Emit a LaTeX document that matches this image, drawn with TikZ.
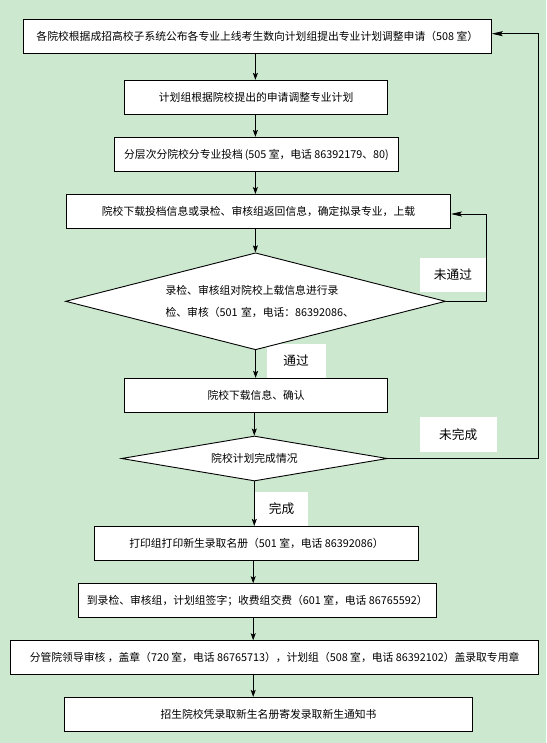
\documentclass[tikz,border=0pt]{standalone}
\usepackage{fontspec}
\setmainfont{Noto Sans CJK SC}
\usetikzlibrary{shapes.geometric,arrows.meta}
\definecolor{bg}{RGB}{204,232,207}
\begin{document}
\begin{tikzpicture}[x=1pt,y=-1pt,
  box/.style={draw=black,line width=0.9pt,fill=white,rectangle,inner sep=0pt,font=\fontsize{10.8}{13}\selectfont},
  dia/.style={draw=black,line width=0.9pt,fill=white,diamond,inner sep=0pt,font=\fontsize{10.8}{21.7}\selectfont},
  lab/.style={fill=white,inner sep=0pt,font=\fontsize{12.7}{15}\selectfont},
  arr/.style={line width=0.8pt,-{Stealth[length=7pt,width=5pt,inset=1.5pt]}},
  fb/.style={line width=0.8pt,-{Stealth[length=11pt,width=5pt,inset=2pt]}},
]
\useasboundingbox[fill=bg] (0,0) rectangle (546,743);

% branch labels
\node[lab,minimum width=66pt,minimum height=34pt] (l1) at (453,275) {未通过};
\node[lab,minimum width=59pt,minimum height=34pt] (l2) at (296,361) {通过};
\node[lab,minimum width=76.6pt,minimum height=34.4pt] (l3) at (458.2,434.5) {未完成};
\node[lab,minimum width=53pt,minimum height=34.3pt] (l4) at (281.6,508.8) {完成};

% boxes
\node[box,minimum width=468pt,minimum height=34pt] (b1) at (257.3,36.3) {各院校根据成招高校子系统公布各专业上线考生数向计划组提出专业计划调整申请（508 室）};
\node[box,minimum width=262.8pt,minimum height=34pt] (b2) at (256.1,97.3) {计划组根据院校提出的申请调整专业计划};
\node[box,minimum width=284.5pt,minimum height=34.4pt] (b3) at (256.5,154.5) {分层次分院校分专业投档\,(505 室，电话 86392179、80)};
\node[box,minimum width=384pt,minimum height=34pt] (b4) at (258.5,211.5) {院校下载投档信息或录检、审核组返回信息，确定拟录专业，上载};
\node[dia,minimum width=380pt,minimum height=97pt,aspect=3.9,text width=180pt,align=left] (d1) at (255.6,301.3) {\mbox{录检、审核组对院校上载信息进行录}\\\mbox{检、审核（501 室，电话：86392086、}};
\node[box,minimum width=262.8pt,minimum height=34.4pt] (b5) at (256.1,395.5) {院校下载信息、确认};
\node[dia,minimum width=266pt,minimum height=45pt,aspect=5.9] (d2) at (254.4,458.5) {\raisebox{-3pt}{院校计划完成情况}};
\node[box,minimum width=323.5pt,minimum height=34pt] (b6) at (256.5,543.3) {打印组打印新生录取名册（501 室，电话 86392086）};
\node[box,minimum width=358pt,minimum height=33.6pt] (b7) at (257.3,600.5) {到录检、审核组，计划组签字；收费组交费（601 室，电话 86765592）};
\node[box,minimum width=527.5pt,minimum height=33.6pt] (b8) at (274.6,657.5) {分管院领导审核 ，盖章（720 室，电话 86765713），计划组（508 室，电话 86392102）盖录取专用章};
\node[box,minimum width=407.3pt,minimum height=34pt] (b9) at (268.5,714.3) {招生院校凭录取新生名册寄发录取新生通知书};

% connector guides
\coordinate (ax1) at (255.4,0);
\coordinate (ax2) at (254.3,0);
\coordinate (ax3) at (253.2,0);
\coordinate (ox) at (538,33.7);
\coordinate (ix) at (486,214);

% main flow
\draw[arr] (b1.south -| ax1) -- (b2.north -| ax1);
\draw[arr] (b2.south -| ax1) -- (b3.north -| ax1);
\draw[arr] (b3.south -| ax1) -- (b4.north -| ax1);
\draw[arr] (b4.south -| ax1) -- (d1.north -| ax1);
\draw[arr] (d1.south) -- (b5.north -| d1.south);
\draw[arr] (b5.south -| ax2) -- (d2.north -| ax2);
\draw[arr] (d2.south -| ax2) -- (b6.north -| ax2);
\draw[arr] (b6.south -| ax3) -- (b7.north -| ax3);
\draw[arr] (b7.south -| ax3) -- (b8.north -| ax3);
\draw[arr] (b8.south -| ax3) -- (b9.north -| ax3);

% feedback loops
\draw[fb] (d1.east) -| (ix) -- (ix -| b4.east);
\draw[fb] (d2.east) -| (ox) -- (ox -| b1.east);
\end{tikzpicture}
\end{document}
